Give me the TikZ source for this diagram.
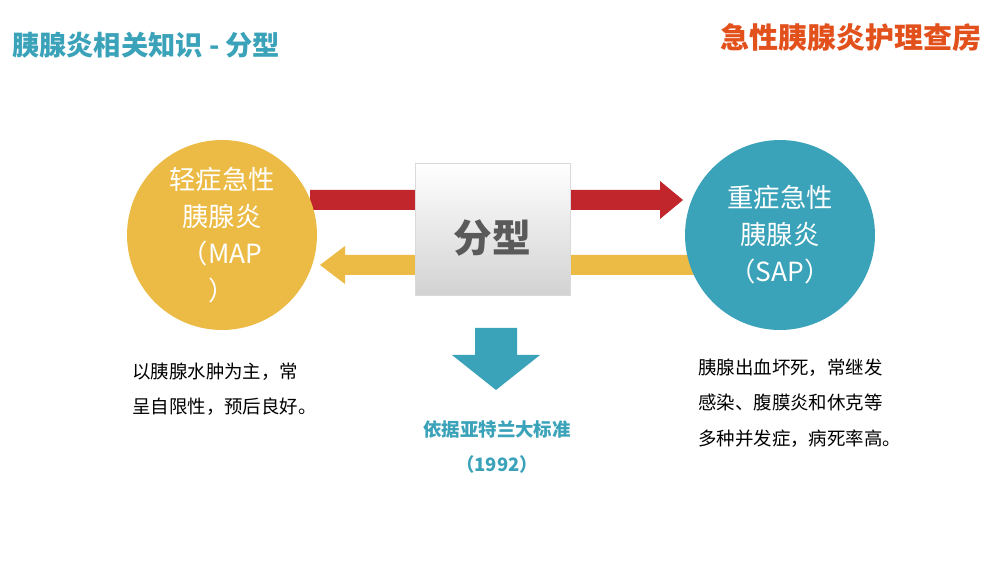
\documentclass[tikz,border=0pt]{standalone}
\usepackage{fontspec}
\setmainfont{Noto Sans CJK SC}
\newfontfamily\cjk{Noto Sans CJK SC}
\usepackage{tikz}
\usetikzlibrary{positioning}
\definecolor{cTeal}{HTML}{3AA2B9}
\definecolor{cYel}{HTML}{ECBB45}
\definecolor{cRed}{HTML}{C0262B}
\definecolor{cOrg}{HTML}{E2501C}
\definecolor{cGray}{HTML}{5A5A5A}
\begin{document}
\begin{tikzpicture}[x=0.02cm,y=-0.02cm]
\tikzset{
  bigdot/.style={circle,minimum size=3.8cm,inner sep=0pt,text=white,align=center,
    font=\cjk\fontsize{15}{21}\selectfont},
  note/.style={anchor=north west,align=left,font=\cjk\fontsize{10.5}{20}\selectfont}
}
\useasboundingbox (0,0) rectangle (1000,563);
% titles
\node[anchor=west,text=cTeal,font=\cjk\bfseries\fontsize{15.5}{17}\selectfont] (title) at (6,45) {胰腺炎相关知识 - 分型};
\node[anchor=east,text=cOrg,font=\cjk\bfseries\fontsize{16.5}{18}\selectfont] (brand) at (988,38) {急性胰腺炎护理查房};
% arrows behind the box
\fill[cRed] (310,190) -- (660,190) -- (660,181) -- (683,200) -- (660,219) -- (660,210) -- (310,210) -- cycle;
\fill[cYel] (700,255) -- (345,255) -- (345,246) -- (320,265) -- (345,284) -- (345,275) -- (700,275) -- cycle;
% circles
\node[bigdot,fill=cYel] (map) at (222,235) {轻症急性\\胰腺炎\\（MAP\\）};
\node[bigdot,fill=cTeal] (sap) at (780,235) {重症急性\\胰腺炎\\（SAP）};
% center box
\shade[top color=white,bottom color=gray!35,draw=gray!30] (415,163) rectangle (570,295);
\node[text=cGray,font=\cjk\bfseries\fontsize{22}{24}\selectfont] (kind) at (492,238) {分型};
% down arrow
\fill[cTeal] (475,328) -- (517,328) -- (517,355) -- (540,355) -- (496,390) -- (452,355) -- (475,355) -- cycle;
\node[text=cTeal,align=center,font=\cjk\bfseries\fontsize{10.5}{20}\selectfont] (std) at (497,447) {依据亚特兰大标准\\（1992）};
% notes
\node[note] (lnote) at (126,357) {以胰腺水肿为主，常\\呈自限性，预后良好。};
\node[note] (rnote) at (692,353) {胰腺出血坏死，常继发\\感染、腹膜炎和休克等\\多种并发症，病死率高。};
\end{tikzpicture}
\end{document}
